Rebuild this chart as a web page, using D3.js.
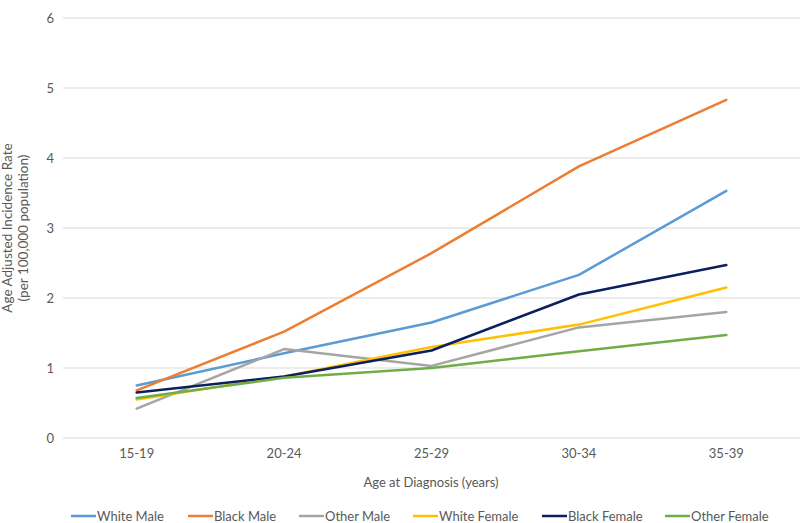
<!DOCTYPE html>
<html><head><meta charset="utf-8">
<script src="https://cdn.jsdelivr.net/npm/d3@7"></script>
<style>body{margin:0;background:#fff}svg{display:block}text{font-family:Lato,"Open Sans",sans-serif;fill:#595959}</style>
</head><body><svg id="c" width="800" height="523"></svg>
<script>
const categories = ["15-19","20-24","25-29","30-34","35-39"];
const seriesNames = ["White Male","Black Male","Other Male","White Female","Black Female","Other Female"];
const whiteMale   = [0.75,1.21,1.65,2.33,3.53];
const blackMale   = [0.68,1.52,2.64,3.88,4.83];
const otherMale   = [0.42,1.27,1.03,1.58,1.80];
const whiteFemale = [0.55,0.88,1.30,1.62,2.15];
const blackFemale = [0.65,0.88,1.25,2.05,2.47];
const otherFemale = [0.57,0.86,1.00,1.24,1.47];
const yTicks = [0,1,2,3,4,5,6];
const colors = ["#5B9BD5","#ED7D31","#A5A5A5","#FFC000","#0C1F5E","#70AD47"];
const series = [whiteMale,blackMale,otherMale,whiteFemale,blackFemale,otherFemale];

const svg = d3.select("#c");
const x = d3.scaleBand().domain(categories).range([63,800]);
const y = d3.scaleLinear().domain([0,6]).range([438,18]);

// gridlines
svg.append("g").selectAll("line").data(yTicks).join("line")
  .attr("x1",63).attr("x2",800).attr("y1",d=>y(d)).attr("y2",d=>y(d))
  .attr("stroke","#D9D9D9").attr("stroke-width",1);

// y axis labels
const ya = svg.append("g").attr("transform","translate(54,0)")
  .call(d3.axisLeft(y).tickValues(yTicks).tickSize(0).tickPadding(0).tickFormat(d3.format("d")));
ya.select(".domain").remove();
ya.selectAll("text").style("font-size","13px").attr("fill","#595959");

// x axis labels
const xa = svg.append("g").attr("transform","translate(0,449)")
  .call(d3.axisBottom(x).tickSize(0).tickPadding(0));
xa.select(".domain").remove();
xa.selectAll("text").style("font-size","13px").attr("fill","#595959");

// titles
svg.append("text").attr("x",431).attr("y",487).attr("text-anchor","middle")
  .style("font-size","13px").text("Age at Diagnosis (years)");
const yt = svg.append("text").attr("transform","translate(0,228) rotate(-90)").attr("text-anchor","middle").style("font-size","13.5px");
yt.append("tspan").attr("x",0).attr("y",12).text("Age Adjusted Incidence Rate");
yt.append("tspan").attr("x",0).attr("y",28).text("(per 100,000 population)");

// lines
const line = d3.line().x((d,i)=>x(categories[i])+x.bandwidth()/2).y(d=>y(d));
svg.append("g").selectAll("path").data(series).join("path")
  .attr("d",d=>line(d)).attr("fill","none")
  .attr("stroke",(d,i)=>colors[i]).attr("stroke-width",2.5)
  .attr("stroke-linejoin","round").attr("stroke-linecap","round");

// legend
const legX = [71,188,299,413,542,665];
const lg = svg.append("g").selectAll("g").data(seriesNames).join("g")
  .attr("transform",(d,i)=>`translate(${legX[i]},516)`);
lg.append("line").attr("x1",0).attr("x2",25).attr("y1",0).attr("y2",0)
  .attr("stroke",(d,i)=>colors[i]).attr("stroke-width",2.5);
lg.append("text").attr("x",26).attr("y",4.5).style("font-size","13px").text(d=>d);
</script></body></html>
